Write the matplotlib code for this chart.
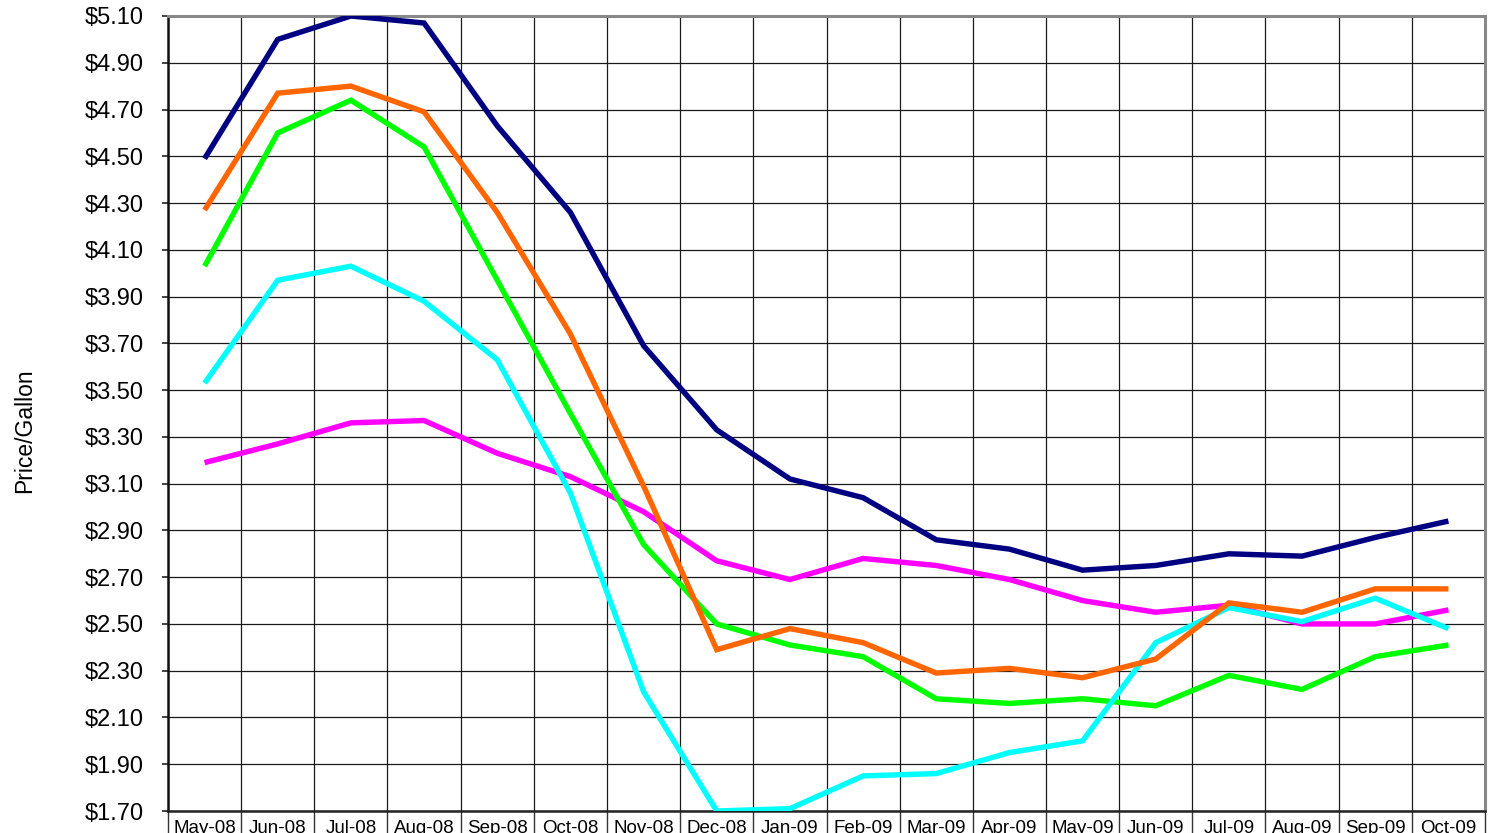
import matplotlib
matplotlib.use('Agg')
import matplotlib.pyplot as plt
from matplotlib.ticker import FixedLocator, FuncFormatter
import numpy as np

# --- Data: monthly price per gallon ---
months = ['May-08', 'Jun-08', 'Jul-08', 'Aug-08', 'Sep-08', 'Oct-08',
          'Nov-08', 'Dec-08', 'Jan-09', 'Feb-09', 'Mar-09', 'Apr-09',
          'May-09', 'Jun-09', 'Jul-09', 'Aug-09', 'Sep-09', 'Oct-09']

navy_prices    = [4.49, 5.00, 5.10, 5.07, 4.63, 4.26, 3.69, 3.33, 3.12,
                  3.04, 2.86, 2.82, 2.73, 2.75, 2.80, 2.79, 2.87, 2.94]
magenta_prices = [3.19, 3.27, 3.36, 3.37, 3.23, 3.13, 2.98, 2.77, 2.69,
                  2.78, 2.75, 2.69, 2.60, 2.55, 2.58, 2.50, 2.50, 2.56]
green_prices   = [4.03, 4.60, 4.74, 4.54, 3.97, 3.40, 2.84, 2.50, 2.41,
                  2.36, 2.18, 2.16, 2.18, 2.15, 2.28, 2.22, 2.36, 2.41]
cyan_prices    = [3.53, 3.97, 4.03, 3.88, 3.63, 3.06, 2.21, 1.70, 1.71,
                  1.85, 1.86, 1.95, 2.00, 2.42, 2.57, 2.51, 2.61, 2.48]
orange_prices  = [4.27, 4.77, 4.80, 4.69, 4.26, 3.74, 3.09, 2.39, 2.48,
                  2.42, 2.29, 2.31, 2.27, 2.35, 2.59, 2.55, 2.65, 2.65]

y_ticks = [1.70, 1.90, 2.10, 2.30, 2.50, 2.70, 2.90, 3.10, 3.30,
           3.50, 3.70, 3.90, 4.10, 4.30, 4.50, 4.70, 4.90, 5.10]

plt.rcParams['font.family'] = ['Liberation Sans', 'DejaVu Sans']

W, H = 1489, 833
fig = plt.figure(figsize=(W / 100, H / 100), dpi=100, facecolor='white')
ax = fig.add_axes([168 / W, 1 - 811 / H, (1485 - 168) / W, (811 - 16) / H])

x = np.arange(len(months))
series = [
    (magenta_prices, '#FF00FF'),
    (green_prices,   '#00FF00'),
    (cyan_prices,    '#00FFFF'),
    (orange_prices,  '#FF6600'),
    (navy_prices,    '#000080'),
]
for i, (vals, col) in enumerate(series):
    ax.plot(x, vals, color=col, lw=3.9, solid_joinstyle='miter',
            solid_capstyle='butt', zorder=3 + i)

ax.set_xlim(-0.5, len(months) - 0.5)
ax.set_ylim(y_ticks[0], y_ticks[-1])

# y axis: dollar ticks with short outward marks
ax.yaxis.set_major_locator(FixedLocator(y_ticks))
ax.yaxis.set_major_formatter(FuncFormatter(lambda v, p: f'${v:.2f}'))
ax.tick_params(axis='y', which='major', direction='out', length=4.5,
               width=1.2, color='#222222', labelsize=17, pad=13)

# x axis: labels centred in each month cell, boundaries run down past the axis
ax.set_xticks(x)
ax.set_xticklabels(months)
ax.set_xticks(np.arange(len(months) + 1) - 0.5, minor=True)
ax.tick_params(axis='x', which='major', length=0, labelsize=13.5, pad=6.5)
ax.tick_params(axis='x', which='minor', direction='out', length=20,
               width=1.0, color='#333333')

# grid
ax.grid(axis='y', which='major', color='#1a1a1a', lw=0.9, zorder=1)
ax.grid(axis='x', which='minor', color='#1a1a1a', lw=0.9, zorder=1)
ax.set_axisbelow(True)

for side in ['top', 'right']:
    ax.spines[side].set_color('#888888')
    ax.spines[side].set_linewidth(2.2)
ax.spines['left'].set_color('#111111')
ax.spines['left'].set_linewidth(1.8)
ax.spines['bottom'].set_color('#222222')
ax.spines['bottom'].set_linewidth(1.8)

fig.text(25 / W, 1 - 431 / H, 'Price/Gallon', rotation=90,
         ha='center', va='center', fontsize=16.5)

fig.savefig('out.png', dpi=100, facecolor='white')
